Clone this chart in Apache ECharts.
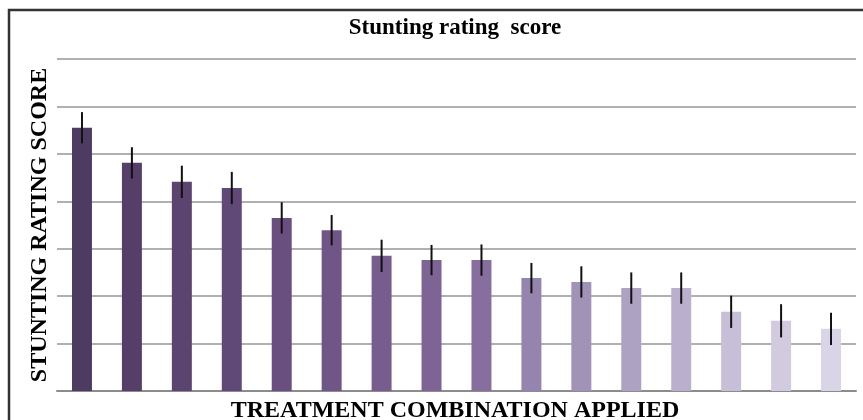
<!DOCTYPE html>
<html>
<head>
<meta charset="utf-8">
<script src="https://cdn.jsdelivr.net/npm/echarts@6/dist/echarts.min.js"></script>
<style>
html,body{margin:0;padding:0;background:#fff;}
#chart{width:863px;height:420px;}
</style>
</head>
<body>
<div id="chart"></div>
<script>
var categories = ['T1','T2','T3','T4','T5','T6','T7','T8','T9','T10','T11','T12','T13','T14','T15','T16'];
var scores = [5.55, 4.81, 4.41, 4.28, 3.65, 3.39, 2.85, 2.76, 2.76, 2.38, 2.30, 2.17, 2.17, 1.67, 1.48, 1.31];
var errors = [0.33, 0.33, 0.34, 0.34, 0.33, 0.32, 0.34, 0.32, 0.33, 0.32, 0.33, 0.33, 0.33, 0.34, 0.35, 0.34];
var titleText = 'Stunting rating  score';
var yName = 'STUNTING RATING SCORE';
var xName = 'TREATMENT COMBINATION APPLIED';

var palette = ['#4e3b62','#553f69','#5b4470','#614977','#684f7f','#6f5686','#765d8d','#7d6494',
               '#866f9f','#9584ad','#a193b7','#aea2c2','#bab0cd','#c7bed8','#d2cbe0','#dad5e6'];

var chart = echarts.init(document.getElementById('chart'), null, {renderer:'canvas'});
var serif = '"Liberation Serif", "DejaVu Serif", serif';

var option = {
  animation: false,
  backgroundColor: '#fff',
  grid: {left: 57, right: 7, top: 59, bottom: 29, containLabel: false},
  xAxis: {
    type: 'category',
    data: categories,
    axisLine: {show: true, lineStyle: {color: '#8c8c8c', width: 2}},
    axisTick: {show: false},
    axisLabel: {show: false},
    splitLine: {show: false}
  },
  yAxis: {
    type: 'value',
    min: 0, max: 7, interval: 1,
    axisLine: {show: false},
    axisTick: {show: false},
    axisLabel: {show: false},
    splitLine: {show: true, lineStyle: {color: '#969696', width: 1.5}}
  },
  series: [
    {
      type: 'bar',
      barWidth: '40%',
      data: scores.map(function (v, i) { return {value: v, itemStyle: {color: palette[i]}}; }),
      itemStyle: {borderWidth: 0}
    },
    {
      type: 'custom',
      z: 5,
      data: scores.map(function (v, i) { return [i, v - errors[i], v + errors[i]]; }),
      renderItem: function (params, api) {
        var lo = api.coord([api.value(0), api.value(1)]);
        var hi = api.coord([api.value(0), api.value(2)]);
        return {
          type: 'line',
          shape: {x1: lo[0], y1: lo[1], x2: hi[0], y2: hi[1]},
          style: {stroke: '#111', lineWidth: 2}
        };
      }
    }
  ],
  graphic: [
    {
      type: 'rect', z: 10, silent: true,
      shape: {x: 9, y: 10, width: 900, height: 500},
      style: {fill: 'none', stroke: '#333', lineWidth: 2.5}
    },
    {
      type: 'text', z: 10, x: 455, y: 28,
      style: {text: titleText, font: 'bold 23px ' + serif, fill: '#000', textAlign: 'center', textVerticalAlign: 'middle'}
    },
    {
      type: 'text', z: 10, x: 40, y: 225, rotation: Math.PI / 2,
      style: {text: yName, font: 'bold 24px ' + serif, fill: '#000', textAlign: 'center', textVerticalAlign: 'middle'}
    },
    {
      type: 'text', z: 10, x: 455, y: 411,
      style: {text: xName, font: 'bold 24px ' + serif, fill: '#000', textAlign: 'center', textVerticalAlign: 'middle'}
    }
  ]
};
chart.setOption(option);
</script>
</body>
</html>
